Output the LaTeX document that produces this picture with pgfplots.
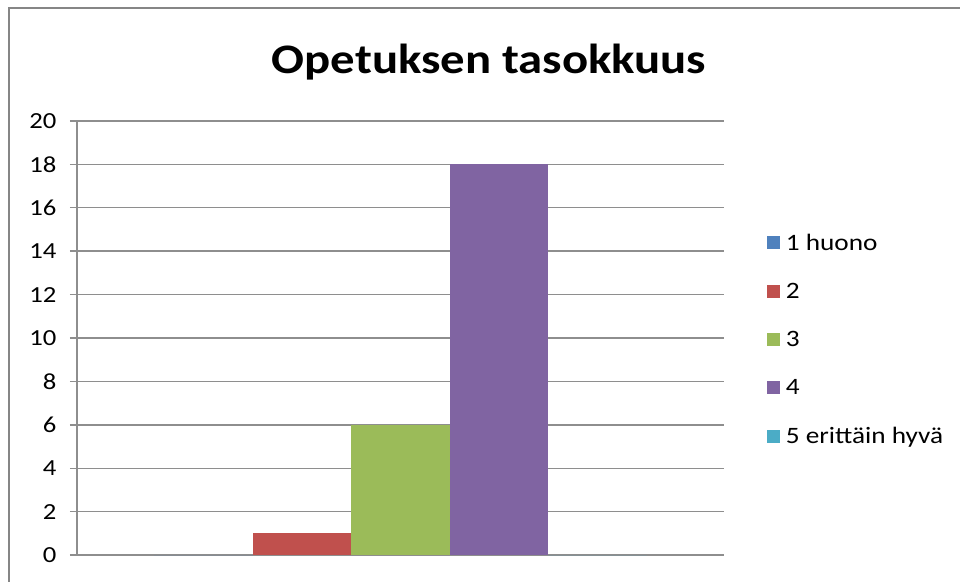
\documentclass[border=0pt]{standalone}
\usepackage{pgfplots}
\pgfplotsset{compat=1.18}
\usepackage{fontspec}
\setmainfont[FakeStretch=1.16]{Carlito}
\definecolor{s1}{HTML}{4F81BD}
\definecolor{s2}{HTML}{C0504D}
\definecolor{s3}{HTML}{9BBB59}
\definecolor{s4}{HTML}{8064A2}
\definecolor{s5}{HTML}{4BACC6}
\definecolor{gridc}{HTML}{8E8E8E}
\definecolor{framec}{HTML}{868686}
\begin{document}
\begin{tikzpicture}
\useasboundingbox (-77pt,-26pt) rectangle (883pt,555pt);
\draw[framec, line width=2.2pt] (-68pt,-40pt) -- (-68pt,547pt) -- (900pt,547pt);
\node[font=\fontsize{42}{50}\selectfont\bfseries] at (412pt,493pt) {Opetuksen tasokkuus};
\begin{axis}[
  at={(0pt,0pt)}, anchor=south west,
  scale only axis, width=647pt, height=434pt,
  xmin=-1, xmax=1, ymin=0, ymax=20,
  ytick={0,2,...,20},
  xtick=\empty,
  axis x line*=bottom, axis y line*=left,
  axis line style={gridc, line width=1.4pt, -},
  ymajorgrids, grid style={gridc, line width=1.4pt},
  major tick length=7pt, tick align=outside,
  tick style={gridc, line width=1.4pt},
  ticklabel style={font=\fontsize{23}{26}\selectfont},
  /pgf/number format/assume math mode=true,
  yticklabel style={anchor=east, xshift=-10pt},
  ybar=0pt, bar width=98.5pt,
  legend style={draw=none, at={(1.062,0.75)}, anchor=north west,
    font=\fontsize{23.5}{26}\selectfont, row sep=27.5pt,
    legend cell align=left, fill=none,
    nodes={inner xsep=5.5pt}},
  legend image code/.code={\fill[#1] (0pt,-6.5pt) rectangle (13pt,6.5pt);},
]
\addplot[fill=s1, draw=none] coordinates {(0,0)};
\addplot[fill=s2, draw=none] coordinates {(0,1)};
\addplot[fill=s3, draw=none] coordinates {(0,6)};
\addplot[fill=s4, draw=none] coordinates {(0,18)};
\addplot[fill=s5, draw=none] coordinates {(0,0)};
\legend{1 huono,2,3,4,5 erittäin hyvä}
\end{axis}
\end{tikzpicture}
\end{document}
